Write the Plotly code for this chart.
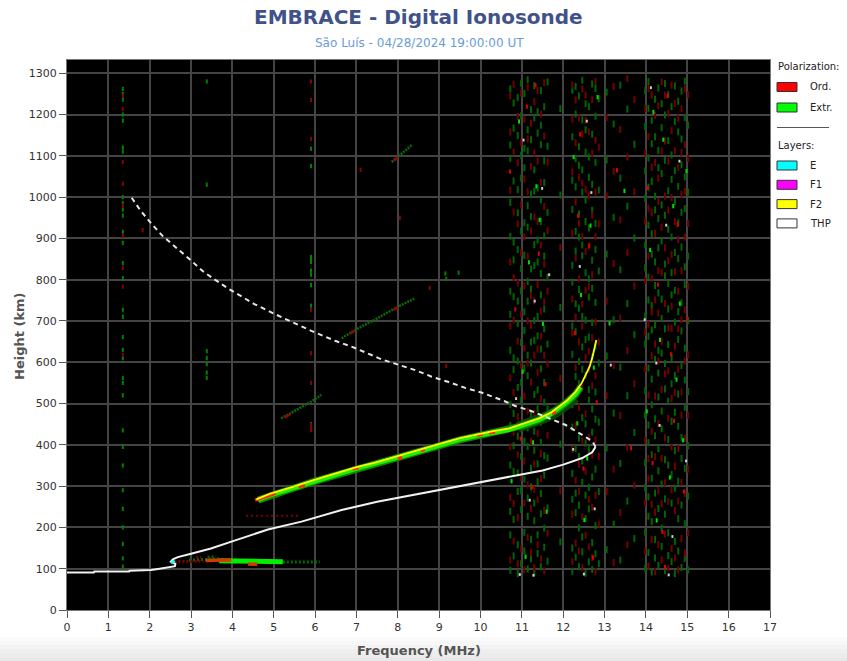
import plotly.graph_objects as go

# ---------------- DATA ----------------
x_ticks = list(range(0, 18))
y_ticks = list(range(0, 1301, 100))

title_text = "EMBRACE - Digital Ionosonde"
subtitle_text = "São Luís - 04/28/2024 19:00:00 UT"
x_label = "Frequency (MHz)"
y_label = "Height (km)"

# True height profile (solid) and topside extension (dashed)
thp_f = [0.0, 0.65, 0.66, 1.5, 1.51, 2.03, 2.24, 2.43, 2.61, 2.62, 2.51, 2.56, 2.68, 3.0,
         3.48, 4.05, 4.86, 5.67, 6.64, 7.5, 8.3, 9.07, 10.04, 11.0, 11.5, 12.0, 12.46, 12.7, 12.78]
thp_h = [91, 91, 93, 93, 95, 97, 100, 103, 106, 112, 117, 123, 128, 136,
         149, 168, 195, 214, 242, 262, 277, 291, 309, 327, 338, 352, 368, 382, 395]
top_f = [12.78, 12.71, 12.46, 12.06, 11.57, 11.17, 10.84, 10.6, 10.04, 9.63, 9.23, 8.82, 8.42,
         7.61, 6.88, 6.48, 5.91, 5.42, 5.02, 4.53, 4.21, 3.89, 3.56, 3.28, 2.96, 2.63, 2.31,
         2.03, 1.78, 1.54]
top_h = [395, 408, 424, 448, 468, 484, 494, 505, 526, 538, 552, 565, 581,
         607, 638, 652, 676, 698, 717, 741, 759, 779, 801, 821, 850, 878, 906,
         937, 967, 1002]

# F2 trace (scaled O trace) and echoes
f2_f = [4.58, 4.9, 5.42, 6.0, 6.64, 7.0, 7.45, 7.85, 8.26, 8.65, 9.07, 9.5, 10.04, 10.3,
        10.69, 11.0, 11.41, 11.7, 11.9, 12.1, 12.3, 12.45, 12.54, 12.64, 12.71, 12.76, 12.8]
f2_h = [268, 281, 297, 316, 335, 346, 357, 369, 380, 392, 404, 416, 428, 433,
        440, 450, 464, 478, 492, 508, 529, 550, 569, 590, 614, 635, 654]
xband_f = [4.62, 4.9, 5.42, 6.0, 6.64, 7.0, 7.45, 7.85, 8.26, 8.65, 9.07, 9.5, 10.04, 10.3,
           10.69, 11.0, 11.41, 11.7, 11.9, 12.1, 12.3, 12.42]
xband_h = [266, 277, 293, 312, 331, 342, 353, 365, 376, 388, 400, 412, 424, 429,
           436, 446, 460, 474, 488, 504, 522, 540]
spread_f = [10.9, 11.2, 11.5, 11.8, 12.1, 12.3]
spread_h = [443, 452, 464, 478, 498, 515]
ord_seg_f = [4.55, 5.05, None, 5.6, 5.75, None, 6.9, 7.05, None, 8.0, 8.1, None,
             8.55, 8.65, None, 9.9, 10.05, None, 10.2, 10.35, None, 11.72, 11.82]
ord_seg_h = [266, 283, None, 299, 303, None, 342, 345, None, 367, 370, None,
             386, 389, None, 423, 426, None, 429, 431, None, 476, 481]

# E region
e_layer_f = [2.52, 2.56, 2.6]
e_layer_h = [113, 117, 120]
es_x_bright_f = [3.68, 4.2, 4.8, 5.22]
es_x_bright_h = [119, 118, 117, 117]
es_x_dark_f = [2.95, 3.7, None, 5.22, 6.11, None, 3.4, 3.6]
es_x_dark_h = [121, 124, None, 116, 116, None, 128, 129]
es_o_f = [3.35, 3.97, None, 4.38, 4.6]
es_o_h = [120, 121, None, 111, 111]
es_o_dark_f = [2.6, 3.3, None, 3.12, 3.24, None, 3.39]
es_o_dark_h = [117, 118, None, 127, 128, None, 89]

# faint multi-hop traces
hop_f = [5.18, 5.5, 5.91, 6.15, None, 6.64, 7.04, 7.5, 8.01, 8.42, None, 7.85, 8.1, 8.34]
hop_h = [464, 482, 505, 521, None, 658, 682, 706, 735, 755, None, 1085, 1105, 1126]
hop_red_f = [5.26, 5.4, None, 6.85, 6.95, None, 7.9, 8.0, None, 7.9, 8.0]
hop_red_h = [466, 474, None, 670, 676, None, 727, 733, None, 1088, 1096]
dotline_f = [4.33, 5.62]
dotline_h = [228, 228]

# interference columns and stray echoes
intf_x_f = [1.35] * 32 + [3.38] * 7 + [5.9] * 10 + [9.47, 9.17, 9.15]
intf_x_h = [1262, 1250, 1236, 1200, 1185, 1120, 1110, 1000, 985, 970, 955, 916, 889, 840, 804,
            727, 710, 661, 630, 610, 562, 550, 520, 435, 395, 350, 290, 245, 200, 160, 125, 105,
            1280, 1030, 627, 610, 595, 575, 562,
            1117, 1075, 855, 849, 843, 822, 812, 787, 737, 450,
            817, 802, 815]
intf_o_f = [1.35] * 9 + [5.9] * 9 + [1.83, 7.10, 8.05, 9.17, 8.77]
intf_o_h = [1245, 1213, 1085, 1032, 980, 906, 828, 783, 618,
            1280, 1235, 1141, 727, 622, 550, 448, 442, 436,
            920, 1066, 950, 591, 780]

# noise band columns
noise_freqs = [10.72, 10.80, 10.90, 10.98, 11.06, 11.14, 11.22, 11.30, 11.38, 11.46, 11.54, 11.62,
               11.93,
               12.22, 12.30, 12.38, 12.46, 12.54, 12.62, 12.70, 12.78, 12.86,
               13.05, 13.22, 13.38, 13.55, 13.72,
               13.98, 14.06, 14.14, 14.22, 14.30, 14.38, 14.46, 14.54, 14.62, 14.70, 14.78,
               14.86, 14.94, 15.02]
noise_extr_h = [
    [96, 182, 239, 351, 447, 498, 629, 716, 772, 905, 987, 1094, 1126, 1262],
    [131, 219, 336, 398, 476, 582, 611, 759, 848, 891, 1039, 1167, 1228],
    [88, 158, 287, 332, 421, 539, 603, 694, 748, 873, 962, 1018, 1149, 1241],
    [112, 243, 289, 372, 508, 551, 648, 773, 827, 918, 1046, 1101, 1197, 1276],
    [143, 188, 317, 409, 452, 586, 677, 722, 859, 938, 1071, 1118, 1251],
    [99, 227, 271, 396, 441, 567, 617, 748, 796, 927, 979, 1112, 1163, 1284],
    [124, 171, 298, 343, 475, 598, 649, 777, 826, 953, 1007, 1139, 1212],
    [91, 216, 259, 387, 433, 522, 653, 701, 834, 885, 1014, 1066, 1192, 1270],
    [137, 182, 311, 354, 487, 533, 664, 711, 843, 896, 1022, 1155, 1207],
    [105, 233, 282, 406, 455, 584, 632, 763, 815, 941, 993, 1127, 1174, 1258],
    [152, 198, 327, 374, 503, 551, 681, 729, 857, 906, 1035, 1088, 1219],
    [118, 247, 368, 487, 644, 806, 963, 1123, 1279],
    [165, 402, 733, 1005, 1214],
    [94, 150, 268, 331, 443, 497, 619, 688, 794, 835, 970, 1041, 1146, 1259],
    [128, 236, 283, 391, 522, 566, 674, 742, 869, 917, 1025, 1093, 1201, 1268],
    [105, 199, 254, 372, 416, 548, 602, 731, 776, 903, 959, 1077, 1122, 1245],
    [141, 177, 309, 361, 466, 583, 637, 711, 858, 884, 1012, 1066, 1187, 1283],
    [89, 221, 278, 404, 451, 569, 655, 702, 817, 941, 993, 1109, 1163, 1226],
    [117, 245, 297, 388, 508, 534, 661, 758, 802, 925, 1048, 1097, 1219],
    [98, 163, 322, 431, 487, 612, 696, 779, 847, 968, 1031, 1152, 1274],
    [136, 204, 341, 462, 528, 639, 745, 873, 936, 1084, 1196, 1263],
    [112, 287, 455, 598, 821, 1017, 1238],
    [146, 392, 615, 862, 1090, 1254],
    [208, 477, 703, 951, 1177],
    [121, 355, 588, 824, 1046, 1271],
    [264, 519, 742, 978, 1213],
    [173, 430, 667, 901, 1128],
    [101, 188, 296, 357, 472, 531, 644, 712, 829, 884, 997, 1063, 1171, 1258],
    [139, 227, 274, 405, 448, 586, 663, 751, 806, 932, 1024, 1095, 1215, 1280],
    [92, 214, 319, 376, 497, 559, 678, 737, 862, 911, 1038, 1129, 1186],
    [126, 171, 283, 422, 463, 607, 691, 786, 843, 969, 1002, 1146, 1237],
    [108, 246, 337, 391, 516, 574, 629, 768, 877, 948, 1071, 1113, 1264],
    [154, 198, 305, 439, 482, 622, 706, 753, 894, 981, 1057, 1168, 1226],
    [95, 232, 269, 364, 535, 597, 681, 809, 838, 956, 1089, 1199, 1275],
    [132, 187, 351, 413, 506, 643, 729, 791, 922, 1015, 1137, 1248],
    [117, 259, 328, 457, 548, 611, 763, 817, 903, 1043, 1102, 1219],
    [88, 166, 295, 386, 479, 568, 697, 774, 866, 989, 1064, 1183, 1269],
    [143, 221, 312, 445, 523, 655, 722, 851, 937, 1026, 1158, 1232],
    [103, 254, 367, 418, 592, 676, 744, 879, 963, 1078, 1141, 1257],
    [125, 209, 343, 491, 557, 634, 788, 831, 972, 1049, 1193, 1281],
    [97, 276, 398, 529, 701, 857, 1012, 1174],
]
noise_ord_h = [
    [121, 273, 395, 562, 688, 843, 1017, 1158, 1245],
    [167, 258, 431, 527, 702, 805, 964, 1109, 1273],
    [112, 224, 376, 468, 651, 792, 935, 1083, 1196],
    [148, 321, 447, 593, 716, 866, 981, 1132, 1252],
    [97, 259, 361, 518, 634, 785, 903, 1044, 1189],
    [176, 303, 482, 598, 701, 857, 1013, 1141, 1266],
    [139, 246, 408, 552, 689, 761, 918, 1074, 1179],
    [103, 292, 354, 477, 617, 749, 952, 1107, 1231],
    [158, 267, 428, 576, 632, 788, 941, 1087, 1258],
    [124, 318, 379, 512, 663, 724, 884, 1036, 1201],
    [95, 241, 462, 617, 746, 838, 977, 1148, 1277],
    [186, 423, 596, 772, 918, 1085],
    [289, 561, 878],
    [117, 232, 389, 506, 671, 753, 912, 1061, 1189, 1271],
    [162, 314, 447, 587, 709, 852, 988, 1132, 1235],
    [143, 287, 353, 491, 649, 802, 937, 1048, 1192],
    [102, 226, 409, 537, 688, 741, 905, 1034, 1153, 1262],
    [181, 336, 475, 612, 774, 868, 1019, 1186, 1247],
    [153, 268, 418, 583, 627, 783, 882, 1003, 1158],
    [127, 249, 376, 543, 659, 812, 957, 1106, 1236],
    [94, 278, 412, 567, 698, 904, 1012, 1138, 1280],
    [208, 372, 649, 935, 1121],
    [287, 519, 748, 1003, 1193],
    [115, 341, 592, 839, 1062, 1268],
    [236, 471, 707, 945, 1164],
    [158, 394, 628, 866, 1097, 1287],
    [302, 548, 785, 1013, 1236],
    [142, 259, 411, 584, 673, 798, 942, 1107, 1214],
    [106, 318, 367, 521, 692, 857, 973, 1146, 1263],
    [171, 256, 433, 616, 722, 803, 963, 1072, 1247],
    [93, 237, 372, 518, 644, 751, 912, 1084, 1198],
    [158, 289, 452, 603, 719, 822, 989, 1046, 1221],
    [121, 257, 367, 534, 651, 818, 927, 1112, 1279],
    [184, 308, 417, 572, 742, 877, 1002, 1136, 1247],
    [102, 263, 464, 579, 683, 846, 968, 1087, 1203],
    [149, 291, 395, 512, 682, 736, 861, 999, 1161, 1271],
    [126, 241, 348, 527, 639, 819, 941, 1112, 1227],
    [97, 264, 391, 583, 681, 772, 897, 1072, 1191],
    [173, 309, 472, 528, 703, 822, 1007, 1108, 1214],
    [138, 282, 416, 603, 727, 903, 1014, 1127, 1262],
    [187, 341, 472, 618, 784, 936, 1093, 1248],
]
bright_extr_f = [10.75, 10.93, 11.02, 11.17, 11.27, 11.35, 11.51, 11.60, 12.25, 12.34, 12.43,
                 12.51, 12.66, 12.74, 12.83, 13.12, 13.48, 14.02, 14.10, 14.26, 14.34, 14.42,
                 14.58, 14.66, 14.82, 14.90, 14.98, 11.09, 11.43, 12.58, 14.18, 14.74]
bright_extr_h = [312, 1183, 577, 842, 406, 1026, 693, 238, 1097, 452, 763,
                 218, 931, 587, 1242, 694, 1015, 481, 872, 217, 654, 1139,
                 321, 978, 742, 411, 1063, 129, 945, 367, 1206, 558]
bright_ord_f = [10.84, 10.97, 11.12, 11.25, 11.41, 11.57, 12.28, 12.41, 12.49, 12.63, 12.72,
                12.81, 13.30, 13.64, 14.04, 14.16, 14.29, 14.40, 14.52, 14.61, 14.77, 14.92,
                15.00, 11.33, 12.36, 14.68, 14.46, 10.71]
bright_ord_h = [728, 415, 1219, 298, 863, 547, 671, 1152, 343, 882, 127,
                503, 1065, 392, 1022, 356, 788, 189, 1245, 619, 934, 287,
                705, 1271, 955, 458, 104, 1062]
white_f = [10.86, 11.04, 11.19, 11.31, 11.49, 12.24, 12.40, 12.57, 12.76, 13.15, 13.97, 14.12,
           14.33, 14.49, 14.64, 14.81, 14.97, 11.66, 12.68, 14.25, 10.95, 11.28, 12.5, 14.55]
white_h = [512, 1138, 266, 748, 1021, 389, 832, 1184, 245, 593, 703, 1265,
           447, 932, 178, 1087, 361, 812, 1011, 598, 86, 84, 87, 85]

legend_pol = ["Ord.", "Extr."]
legend_pol_colors = ["#ff0000", "#00ff00"]
legend_layers = ["E", "F1", "F2", "THP"]
legend_layer_colors = ["#00ffff", "#ff00ff", "#ffff00", "#ffffff"]

# ---------------- FIGURE ----------------
fig = go.Figure()
FONT = "DejaVu Sans"

# expand noise columns
nx_f, nx_h, no_f, no_h = [], [], [], []
for f, hs in zip(noise_freqs, noise_extr_h):
    nx_f += [f] * len(hs)
    nx_h += hs
for f, hs in zip(noise_freqs, noise_ord_h):
    no_f += [f] * len(hs)
    no_h += hs


def dots(xs, ys, color, size=5, width=2):
    fig.add_trace(go.Scatter(x=xs, y=ys, mode="markers", hoverinfo="skip",
                             marker=dict(symbol="line-ns", size=size,
                                         line=dict(width=width, color=color))))


dots(nx_f, nx_h, "#006400", size=5, width=2)
dots(no_f, no_h, "#720000", size=5, width=2)
dots(intf_x_f, intf_x_h, "#008000", size=3, width=2)
dots(intf_o_f, intf_o_h, "#8a0000", size=3, width=2)
dots(bright_extr_f, bright_extr_h, "#00dd00", size=3, width=2)
dots(bright_ord_f, bright_ord_h, "#dd0000", size=3, width=2)
dots(white_f, white_h, "#cfcfcf", size=2, width=2)


def line(xs, ys, color, width, dash="solid", opacity=1.0):
    fig.add_trace(go.Scatter(x=xs, y=ys, mode="lines", hoverinfo="skip",
                             connectgaps=False, opacity=opacity,
                             line=dict(color=color, width=width, dash=dash)))


# faint traces
line(hop_f, hop_h, "#0a6a0a", 2.5, "2px,1px")
line(hop_red_f, hop_red_h, "#9a0000", 2.5)
line(dotline_f, dotline_h, "#7a0000", 2, "2px,3px")

# E region
line(es_x_dark_f, es_x_dark_h, "#006a00", 3, "2px,2px")
line(es_o_dark_f, es_o_dark_h, "#800000", 3, "2px,2px")
line(es_x_bright_f, es_x_bright_h, "#00ee00", 5)
line(es_o_f, es_o_h, "#d43a00", 3.5)

# F2 trace
line(spread_f, spread_h, "#0b4f0b", 11, opacity=0.85)
line(xband_f, xband_h, "#138a00", 7)
line(xband_f, xband_h, "#22ee00", 4)
line(ord_seg_f, ord_seg_h, "#ff2a00", 3.5)
line(f2_f, f2_h, "#ffff00", 1.8)

# profiles
line(top_f, top_h, "#e6e6e6", 2, "5px,4px")
line(thp_f, thp_h, "#f2f2f2", 2)
line(e_layer_f, e_layer_h, "#00ffff", 2.5)

# ----- layout -----
L, R, T, B = 67, 77, 60, 51
W, H = 847, 661
pw, ph = W - L - R, H - T - B


def px(xp):
    return (xp - L) / pw


def py(yp):
    return (H - B - yp) / ph


shapes = []
annotations = []

# bottom grey gradient of the page
grad = ["#fbfbfb", "#f7f7f7", "#f3f3f3", "#efefef", "#ececec", "#e9e9e9"]
for i, c in enumerate(grad):
    y0 = 637 + i * 4
    shapes.append(dict(type="rect", xref="paper", yref="paper", x0=px(0), x1=px(W),
                       y0=py(y0 + 4 if i < len(grad) - 1 else H), y1=py(y0),
                       fillcolor=c, line=dict(width=0), layer="below"))

# custom legend
lx0, lx1, ltx = 777, 797, 808
annotations.append(dict(text="Polarization:", xref="paper", yref="paper", x=px(776), y=py(67),
                        xanchor="left", yanchor="middle", showarrow=False,
                        font=dict(family=FONT, size=10, color="#222")))
for i, (name, col) in enumerate(zip(legend_pol, legend_pol_colors)):
    yc = 87 + i * 20.5
    shapes.append(dict(type="rect", xref="paper", yref="paper", x0=px(lx0), x1=px(lx1),
                       y0=py(yc + 4.5), y1=py(yc - 4.5), fillcolor=col,
                       line=dict(color="#333", width=1)))
    annotations.append(dict(text=name, xref="paper", yref="paper", x=px(ltx), y=py(yc),
                            xanchor="left", yanchor="middle", showarrow=False,
                            font=dict(family=FONT, size=10, color="#222")))
shapes.append(dict(type="line", xref="paper", yref="paper", x0=px(777), x1=px(829),
                   y0=py(127.5), y1=py(127.5), line=dict(color="#555", width=1)))
annotations.append(dict(text="Layers:", xref="paper", yref="paper", x=px(776), y=py(145),
                        xanchor="left", yanchor="middle", showarrow=False,
                        font=dict(family=FONT, size=10, color="#222")))
for i, (name, col) in enumerate(zip(legend_layers, legend_layer_colors)):
    yc = 165.5 + i * 19.3
    shapes.append(dict(type="rect", xref="paper", yref="paper", x0=px(lx0), x1=px(lx1),
                       y0=py(yc + 4.5), y1=py(yc - 4.5), fillcolor=col,
                       line=dict(color="#333", width=1)))
    annotations.append(dict(text=name, xref="paper", yref="paper", x=px(ltx), y=py(yc),
                            xanchor="left", yanchor="middle", showarrow=False,
                            font=dict(family=FONT, size=10, color="#222")))

# titles
annotations.append(dict(text="<b>" + title_text + "</b>", xref="paper", yref="paper",
                        x=px(418), y=py(17), xanchor="center", yanchor="middle",
                        showarrow=False, font=dict(family=FONT, size=20, color="#3f5289")))
annotations.append(dict(text=subtitle_text, xref="paper", yref="paper",
                        x=px(419), y=py(43), xanchor="center", yanchor="middle",
                        showarrow=False, font=dict(family=FONT, size=12, color="#6b9bd6")))
annotations.append(dict(text="<b>" + x_label + "</b>", xref="paper", yref="paper",
                        x=px(419), y=py(650), xanchor="center", yanchor="middle",
                        showarrow=False, font=dict(family=FONT, size=13, color="#555")))
annotations.append(dict(text="<b>" + y_label + "</b>", xref="paper", yref="paper",
                        x=px(19), y=py(336), xanchor="center", yanchor="middle", textangle=-90,
                        showarrow=False, font=dict(family=FONT, size=13, color="#555")))

axis_common = dict(showgrid=True, gridcolor="#444444", gridwidth=1.6, zeroline=False,
                   ticks="outside", ticklen=7, tickcolor="#555", tickwidth=1,
                   showline=True, linecolor="#777", linewidth=1, mirror=True,
                   tickfont=dict(family=FONT, size=11, color="#333"), fixedrange=True)

fig.update_layout(
    width=W, height=H,
    margin=dict(l=L, r=R, t=T, b=B, pad=0),
    paper_bgcolor="white", plot_bgcolor="black",
    showlegend=False,
    xaxis=dict(range=[0, 17], tickvals=x_ticks, ticktext=[str(v) for v in x_ticks],
               **axis_common),
    yaxis=dict(range=[0, 1332], tickvals=y_ticks, ticktext=[str(v) for v in y_ticks],
               **axis_common),
    shapes=shapes, annotations=annotations,
)

fig.write_html("out.html")
